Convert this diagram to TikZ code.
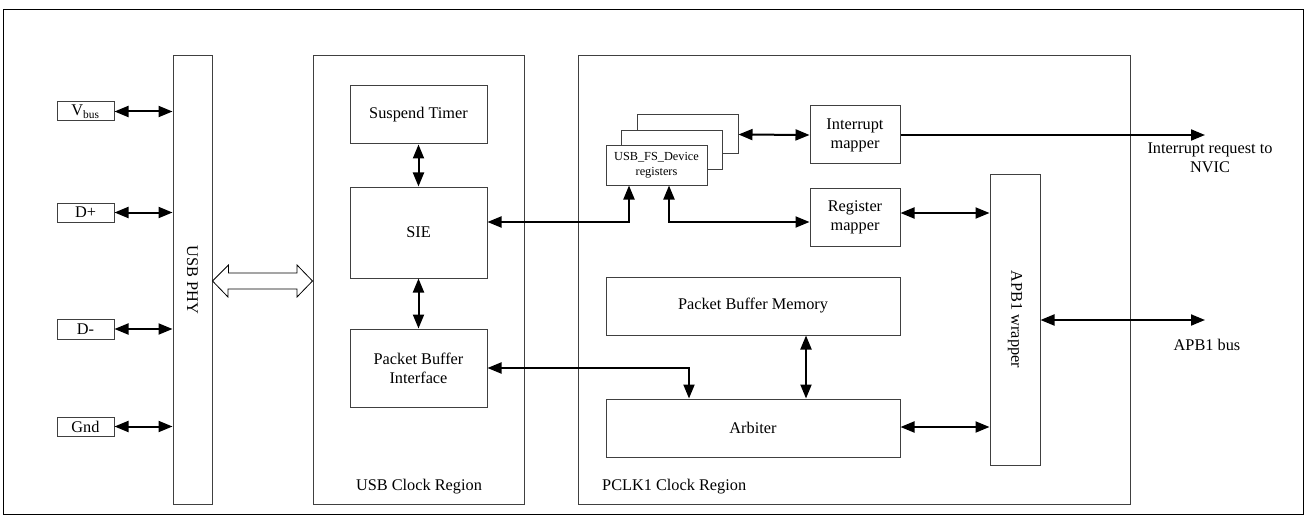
\documentclass[tikz,border=0pt]{standalone}
\usepackage{fontspec}
\setmainfont{Liberation Serif}
\usetikzlibrary{arrows.meta}
\begin{document}
\begin{tikzpicture}[x=1pt,y=-1pt,
  every node/.style={font=\fontsize{16.3}{19}\selectfont},
  box/.style={draw=black!75, line width=1pt, fill=white, inner sep=0pt, align=center},
  region/.style={draw=black!75, line width=1pt, inner sep=0pt},
  arr/.style={line width=2pt, {Triangle[length=14pt,width=11pt]}-{Triangle[length=14pt,width=11pt]}},
  arrone/.style={line width=2pt, -{Triangle[length=14pt,width=11pt]}},
  lbl/.style={inner sep=0pt, align=center}]
\useasboundingbox (0,0) rectangle (1304,516);
\draw[line width=1pt] (3,10) rectangle (1303,514);

% regions
\node[region, minimum width=39pt, minimum height=448pt] (phy) at (192.5,280) {};
\node[lbl, rotate=-90] at (phy.center) {USB PHY};
\node[region, minimum width=211pt, minimum height=448pt] (usbclk) at (418.5,280) {};
\node[region, minimum width=552pt, minimum height=448pt] (pclk) at (854,280) {};
\node[lbl] (usbclklbl) at (419,487) {USB Clock Region};
\node[lbl, anchor=west] (pclklbl) at (602,487) {PCLK1 Clock Region};

% pins
\node[box, minimum width=57pt, minimum height=19pt] (vbus) at (85.5,111.5) {V\textsubscript{bus}};
\node[box, minimum width=57pt, minimum height=19pt] (dp) at (85.5,212.5) {D+};
\node[box, minimum width=57pt, minimum height=20pt] (dm) at (85.5,329) {D-};
\node[box, minimum width=57pt, minimum height=19pt] (gnd) at (85.5,426.5) {Gnd};

% USB clock region blocks
\node[box, minimum width=137pt, minimum height=58pt] (st) at (418.5,115) {Suspend Timer};
\node[box, minimum width=137pt, minimum height=91pt] (sie) at (418.5,232.5) {SIE};
\node[box, minimum width=137pt, minimum height=78pt] (pbi) at (418.5,368) {Packet Buffer\\Interface};

% registers stack
\node[box, minimum width=101pt, minimum height=39pt] (regback) at (687.5,134.5) {};
\node[box, minimum width=101pt, minimum height=39pt] (regmid) at (672,150.5) {};
\node[box, minimum width=101pt, minimum height=39pt, font=\fontsize{12.3}{15}\selectfont] (reg) at (656.5,165.5) {USB\_FS\_Device\\registers};

\node[box, minimum width=90pt, minimum height=58pt] (im) at (855,135) {Interrupt\\mapper};
\node[box, minimum width=90pt, minimum height=58pt] (rm) at (855,217) {Register\\mapper};
\node[box, minimum width=50pt, minimum height=291pt] (apb) at (1015,319.5) {};
\node[lbl, rotate=-90] at (apb.center) {APB1 wrapper};
\node[box, minimum width=294pt, minimum height=58pt] (pbm) at (753,306) {Packet Buffer Memory};
\node[box, minimum width=294pt, minimum height=58pt] (arb) at (753,428) {Arbiter};

% external labels
\coordinate (irqend) at (1205,135);
\coordinate (apbend) at (1205,320);
\node[lbl, anchor=north] (irqlbl) at (1210,143) {Interrupt request to\\NVIC};
\node[lbl] (apblbl) at (1207,345) {APB1 bus};

% pin arrows
\foreach \p in {vbus,dp,dm,gnd}
  \draw[arr] (\p.east) -- (\p.east -| phy.west);

% hollow double arrow
\draw[line width=0.8pt, fill=white, line join=miter]
  (phy.east |- 0,281) -- ++(16,-16) -- ++(0,8) -- (297,273) -- ++(0,-8) -- (usbclk.west |- 0,281)
  -- (297,297) -- ++(0,-8) -- (228,289) -- ++(0,8) -- cycle;

% USB clock arrows
\draw[arr] (st.south) -- (sie.north);
\draw[arr] (sie.south) -- (pbi.north);

% SIE to registers
\coordinate (sieR) at (sie.east |- 0,222);
\draw[arr] (sieR) -| (reg.south -| 629,0);
\draw[arr] (reg.south -| 669,0) |- (rm.west |- 0,222);
\draw[arr] (regback.east) -- (im.west);
\draw[arrone] (im.east) -- (irqend);
\draw[arr] (rm.east |- 0,213) -- (apb.west |- 0,213);
\draw[arr] (pbi.east) -| (arb.north -| 689,0);
\draw[arr] (pbm.south -| 806,0) -- (arb.north -| 806,0);
\draw[arr] (arb.east |- 0,427) -- (apb.west |- 0,427);
\draw[arr] (apb.east |- apbend) -- (apbend);
\end{tikzpicture}
\end{document}
